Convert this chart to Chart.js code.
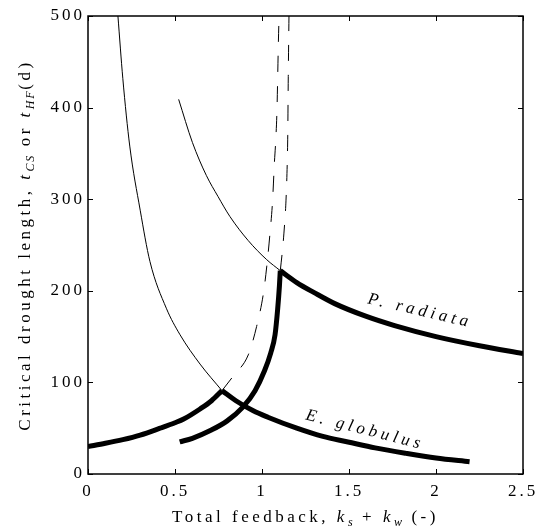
<!DOCTYPE html>
<html>
<head>
<meta charset="utf-8">
<script src="https://cdn.jsdelivr.net/npm/chart.js@4.4.1/dist/chart.umd.min.js"></script>
<style>
  html, body { margin: 0; padding: 0; background: #fff; }
</style>
</head>
<body>
<canvas id="c" width="537" height="531"></canvas>
<script>
// axis ticks
const xTicks = [0, 0.5, 1, 1.5, 2, 2.5];
const yTicks = [0, 100, 200, 300, 400, 500];

// E. globulus : thin hyperbola, thick rising branch, dashed continuation, thick falling branch
const egThinK = [0.172, 0.2, 0.24, 0.3, 0.356, 0.45, 0.529, 0.644, 0.77];
const egThinT = [500, 432, 358, 288, 232, 181, 152, 120, 91];
const egRiseK = [0, 0.1, 0.2, 0.3, 0.414, 0.5, 0.55, 0.644, 0.71, 0.77];
const egRiseT = [30, 33.5, 37.5, 42.5, 50, 56, 60, 71, 80, 91];
const egDashK = [0.77, 0.835, 0.921, 0.969, 1.008, 1.027, 1.046, 1.061, 1.071, 1.078, 1.086, 1.094, 1.098];
const egDashT = [91, 107, 130, 161, 197, 226, 263, 299, 339, 361, 397, 470, 500];
const egFallK = [0.77, 0.85, 0.95, 1.034, 1.2, 1.35, 1.494, 1.65, 1.83, 2.0, 2.193];
const egFallT = [91, 80, 69, 62, 50, 41, 35, 28.5, 22.5, 17.5, 13.4];

// P. radiata
const prThinK = [0.521, 0.6, 0.68, 0.747, 0.816, 0.92, 1.027, 1.105];
const prThinT = [409, 362, 326, 303, 281, 255, 234, 222];
const prRiseK = [0.527, 0.6, 0.709, 0.8, 0.89, 0.96, 1.015, 1.05, 1.075, 1.09, 1.1, 1.105];
const prRiseT = [35, 39, 48, 58, 73, 91, 113, 132, 152, 180, 205, 222];
const prDashK = [1.105, 1.118, 1.126, 1.138, 1.145, 1.148, 1.151, 1.155];
const prDashT = [222, 245, 263, 299, 339, 370, 434, 500];
const prFallK = [1.105, 1.2, 1.3, 1.418, 1.6, 1.762, 2.0, 2.25, 2.5];
const prFallT = [222, 209, 198, 186, 172, 162, 150, 140, 131.5];

const SERIF = '"Liberation Serif"';

function pts(k, t) {
  return k.map((v, i) => ({ x: v, y: t[i] }));
}

function curve(k, t, width, dash) {
  return {
    data: pts(k, t),
    showLine: true,
    borderColor: '#000',
    borderWidth: width,
    borderDash: dash || [],
    pointRadius: 0,
    fill: false,
    cubicInterpolationMode: 'monotone',
    borderCapStyle: 'butt',
    borderJoinStyle: 'miter'
  };
}

// text with italic / subscript parts, spaced like the original
function partFont(p, size) {
  if (p[1] === 'sub') return 'italic ' + Math.round(size * 0.7) + 'px ' + SERIF;
  if (p[1] === 'i') return 'italic ' + size + 'px ' + SERIF;
  return size + 'px ' + SERIF;
}

function drawRich(ctx, parts, size, spacing) {
  let w = 0;
  parts.forEach(p => {
    ctx.font = partFont(p, size);
    ctx.letterSpacing = (p[1] === 'sub' ? spacing * 0.5 : spacing) + 'px';
    w += ctx.measureText(p[0]).width;
  });
  let cx = -w / 2;
  parts.forEach(p => {
    ctx.font = partFont(p, size);
    ctx.letterSpacing = (p[1] === 'sub' ? spacing * 0.5 : spacing) + 'px';
    ctx.fillText(p[0], cx, p[1] === 'sub' ? size * 0.25 : 0);
    cx += ctx.measureText(p[0]).width;
  });
}

const spacing = {
  id: 'spacing',
  beforeUpdate(chart) { chart.ctx.letterSpacing = '3px'; },
  beforeDraw(chart) { chart.ctx.letterSpacing = '3px'; }
};

const frame = {
  id: 'frame',
  afterDraw(chart) {
    const { ctx, chartArea: a, scales: { x, y } } = chart;
    ctx.save();
    ctx.strokeStyle = '#000';
    ctx.lineWidth = 1;
    ctx.beginPath();
    xTicks.forEach(v => {
      const px = Math.round(x.getPixelForValue(v)) + 0.5;
      ctx.moveTo(px, a.bottom); ctx.lineTo(px, a.bottom - 5);
      ctx.moveTo(px, a.top); ctx.lineTo(px, a.top + 5);
    });
    yTicks.forEach(v => {
      const py = Math.round(y.getPixelForValue(v)) + 0.5;
      ctx.moveTo(a.left, py); ctx.lineTo(a.left + 5, py);
      ctx.moveTo(a.right, py); ctx.lineTo(a.right - 5, py);
    });
    ctx.stroke();
    ctx.lineWidth = 1.5;
    ctx.strokeRect(a.left, a.top, a.right - a.left, a.bottom - a.top);

    ctx.fillStyle = '#000';
    ctx.textBaseline = 'alphabetic';
    // x title
    ctx.save();
    ctx.translate((a.left + a.right) / 2, 522);
    drawRich(ctx, [['Total feedback, ', ''], ['k', 'i'], ['s', 'sub'], [' + ', ''], ['k', 'i'], ['w', 'sub'], [' (-)', '']], 17, 3.5);
    ctx.restore();
    // y title
    ctx.save();
    ctx.translate(30, (a.top + a.bottom) / 2);
    ctx.rotate(-Math.PI / 2);
    drawRich(ctx, [['Critical drought length, ', ''], ['t', 'i'], ['CS', 'sub'], [' or ', ''], ['t', 'i'], ['HF', 'sub'], ['(d)', '']], 17, 3.5);
    ctx.restore();

    // curve labels
    const lab = (txt, k, t, ang) => {
      ctx.save();
      ctx.translate(x.getPixelForValue(k), y.getPixelForValue(t));
      ctx.rotate(ang);
      ctx.font = 'italic 17px ' + SERIF;
      ctx.letterSpacing = '4px';
      ctx.textAlign = 'center';
      ctx.textBaseline = 'middle';
      ctx.fillText(txt, 0, 0);
      ctx.restore();
    };
    lab('P. radiata', 1.908, 178, 0.23);
    lab('E. globulus', 1.592, 48, 0.25);
    ctx.restore();
  }
};

new Chart(document.getElementById('c'), {
  type: 'scatter',
  data: {
    datasets: [
      curve(egThinK, egThinT, 1),
      curve(prThinK, prThinT, 1),
      curve(egDashK, egDashT, 1, [16, 14]),
      curve(prDashK, prDashT, 1, [16, 14]),
      curve(egRiseK, egRiseT, 5),
      curve(egFallK, egFallT, 5),
      curve(prRiseK, prRiseT, 5),
      curve(prFallK, prFallT, 5)
    ]
  },
  options: {
    responsive: false,
    animation: false,
    events: [],
    layout: { padding: { top: 16, right: 14, left: 0, bottom: 0 } },
    plugins: { legend: { display: false }, tooltip: { enabled: false } },
    scales: {
      x: {
        type: 'linear', min: 0, max: 2.5,
        grid: { display: false, drawTicks: false },
        border: { display: false },
        afterBuildTicks: s => { s.ticks = xTicks.map(v => ({ value: v })); },
        afterFit: s => { s.height = 57; s.paddingLeft = 0; s.paddingRight = 0; },
        ticks: { color: '#000', padding: 7, maxRotation: 0, font: { family: SERIF, size: 17 }, callback: v => String(v) }
      },
      y: {
        type: 'linear', min: 0, max: 500,
        grid: { display: false, drawTicks: false },
        border: { display: false },
        afterBuildTicks: s => { s.ticks = yTicks.map(v => ({ value: v })); },
        afterFit: s => { s.width = 88; s.paddingTop = 0; s.paddingBottom = 0; },
        ticks: { color: '#000', padding: 3, font: { family: SERIF, size: 17 }, callback: v => String(v) }
      }
    }
  },
  plugins: [spacing, frame]
});
</script>
</body>
</html>
